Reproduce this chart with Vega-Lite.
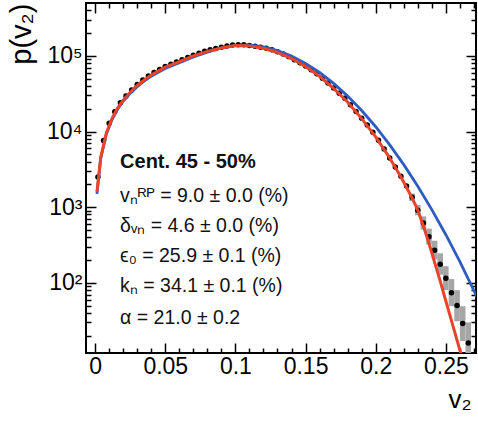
{
  "$schema": "https://vega.github.io/schema/vega-lite/v6.json",
  "width": 390,
  "height": 350,
  "autosize": {"type": "none"},
  "padding": {"left": 86, "top": 3, "right": 2, "bottom": 71},
  "background": "white",
  "config": {
    "view": {"stroke": "black", "strokeWidth": 2},
    "font": "Liberation Sans",
    "axis": {"domain": false, "grid": false, "tickColor": "black", "tickWidth": 1.5, "labelColor": "black", "titleColor": "black", "labelFont": "Liberation Sans", "titleFont": "Liberation Sans", "titleFontWeight": "normal"}
  },
  "datasets": {
    "dots": [
      {"v2": 0.002, "p": 2510}, {"v2": 0.006, "p": 7590}, {"v2": 0.010, "p": 12880}, {"v2": 0.014, "p": 18200},
      {"v2": 0.018, "p": 23990}, {"v2": 0.022, "p": 29510}, {"v2": 0.026, "p": 35480}, {"v2": 0.030, "p": 41690},
      {"v2": 0.034, "p": 47860}, {"v2": 0.038, "p": 54330}, {"v2": 0.042, "p": 60260}, {"v2": 0.046, "p": 66070},
      {"v2": 0.050, "p": 72440}, {"v2": 0.054, "p": 77620}, {"v2": 0.058, "p": 83180}, {"v2": 0.062, "p": 89130},
      {"v2": 0.066, "p": 95500}, {"v2": 0.070, "p": 102300}, {"v2": 0.074, "p": 108400}, {"v2": 0.078, "p": 114800},
      {"v2": 0.082, "p": 120200}, {"v2": 0.086, "p": 125000}, {"v2": 0.090, "p": 130300}, {"v2": 0.094, "p": 134900},
      {"v2": 0.098, "p": 139000}, {"v2": 0.102, "p": 140600}, {"v2": 0.106, "p": 140000}, {"v2": 0.110, "p": 137400},
      {"v2": 0.114, "p": 134300}, {"v2": 0.118, "p": 130300}, {"v2": 0.122, "p": 125900}, {"v2": 0.126, "p": 120200},
      {"v2": 0.130, "p": 113500}, {"v2": 0.134, "p": 105900}, {"v2": 0.138, "p": 97720}, {"v2": 0.142, "p": 89130},
      {"v2": 0.146, "p": 81280}, {"v2": 0.150, "p": 73280}, {"v2": 0.154, "p": 65310}, {"v2": 0.158, "p": 58210},
      {"v2": 0.162, "p": 50700}, {"v2": 0.166, "p": 43650}, {"v2": 0.170, "p": 37580}, {"v2": 0.174, "p": 31990},
      {"v2": 0.178, "p": 27540}, {"v2": 0.182, "p": 22650}, {"v2": 0.186, "p": 18410}, {"v2": 0.190, "p": 14960},
      {"v2": 0.194, "p": 12160}, {"v2": 0.198, "p": 9770}, {"v2": 0.202, "p": 7670}, {"v2": 0.206, "p": 5890},
      {"v2": 0.210, "p": 4470}, {"v2": 0.214, "p": 3390}, {"v2": 0.218, "p": 2570}, {"v2": 0.222, "p": 1905},
      {"v2": 0.226, "p": 1349}, {"v2": 0.230, "p": 912}, {"v2": 0.234, "p": 617}, {"v2": 0.238, "p": 407},
      {"v2": 0.242, "p": 269}, {"v2": 0.246, "p": 176}, {"v2": 0.250, "p": 115}, {"v2": 0.254, "p": 74},
      {"v2": 0.258, "p": 50}, {"v2": 0.262, "p": 29}, {"v2": 0.266, "p": 16}
    ],
    "err": [
      {"v2": 0.226, "lo": 1200, "hi": 1510}, {"v2": 0.230, "lo": 780, "hi": 1070}, {"v2": 0.234, "lo": 505, "hi": 755},
      {"v2": 0.238, "lo": 320, "hi": 520}, {"v2": 0.242, "lo": 203, "hi": 360}, {"v2": 0.246, "lo": 128, "hi": 245},
      {"v2": 0.250, "lo": 80, "hi": 166}, {"v2": 0.254, "lo": 49, "hi": 112}, {"v2": 0.258, "lo": 31, "hi": 80},
      {"v2": 0.262, "lo": 17, "hi": 49}, {"v2": 0.266, "lo": 8.5, "hi": 30}
    ],
    "red": [
      {"v2": 0.0013, "p": 1585}, {"v2": 0.004, "p": 4570}, {"v2": 0.008, "p": 9550}, {"v2": 0.012, "p": 14790},
      {"v2": 0.016, "p": 20420}, {"v2": 0.020, "p": 26000}, {"v2": 0.025, "p": 33100}, {"v2": 0.030, "p": 40600},
      {"v2": 0.035, "p": 48200}, {"v2": 0.040, "p": 55900}, {"v2": 0.045, "p": 63000}, {"v2": 0.050, "p": 70800},
      {"v2": 0.060, "p": 84200}, {"v2": 0.070, "p": 99900}, {"v2": 0.080, "p": 114800}, {"v2": 0.090, "p": 127300},
      {"v2": 0.100, "p": 137000}, {"v2": 0.110, "p": 135500}, {"v2": 0.120, "p": 125900}, {"v2": 0.130, "p": 110900},
      {"v2": 0.140, "p": 92260}, {"v2": 0.150, "p": 72440}, {"v2": 0.160, "p": 53700}, {"v2": 0.170, "p": 37150},
      {"v2": 0.180, "p": 24550}, {"v2": 0.190, "p": 14790}, {"v2": 0.200, "p": 8510}, {"v2": 0.210, "p": 4470},
      {"v2": 0.218, "p": 2500}, {"v2": 0.222, "p": 1820}, {"v2": 0.226, "p": 1318}, {"v2": 0.230, "p": 912},
      {"v2": 0.234, "p": 562}, {"v2": 0.238, "p": 331}, {"v2": 0.242, "p": 186}, {"v2": 0.246, "p": 105},
      {"v2": 0.250, "p": 57.5}, {"v2": 0.254, "p": 31.6}, {"v2": 0.258, "p": 17.4}, {"v2": 0.262, "p": 9.5}
    ],
    "blue": [
      {"v2": 0.0013, "p": 1500}, {"v2": 0.004, "p": 4400}, {"v2": 0.008, "p": 9200}, {"v2": 0.012, "p": 14300},
      {"v2": 0.016, "p": 19700}, {"v2": 0.020, "p": 25100}, {"v2": 0.025, "p": 31900}, {"v2": 0.030, "p": 39200},
      {"v2": 0.035, "p": 46500}, {"v2": 0.040, "p": 53900}, {"v2": 0.045, "p": 60800}, {"v2": 0.050, "p": 68300},
      {"v2": 0.060, "p": 81500}, {"v2": 0.070, "p": 96800}, {"v2": 0.080, "p": 112200}, {"v2": 0.090, "p": 127400},
      {"v2": 0.100, "p": 138000}, {"v2": 0.110, "p": 139600}, {"v2": 0.120, "p": 131800}, {"v2": 0.130, "p": 117500},
      {"v2": 0.140, "p": 99310}, {"v2": 0.150, "p": 79430}, {"v2": 0.160, "p": 60260}, {"v2": 0.170, "p": 43250},
      {"v2": 0.180, "p": 29380}, {"v2": 0.190, "p": 18920}, {"v2": 0.200, "p": 11560}, {"v2": 0.210, "p": 6670},
      {"v2": 0.220, "p": 3650}, {"v2": 0.230, "p": 1890}, {"v2": 0.240, "p": 927}, {"v2": 0.250, "p": 432},
      {"v2": 0.260, "p": 190}, {"v2": 0.270, "p": 79}, {"v2": 0.278, "p": 38}
    ],
    "notes": [
      {"v2": 0.0178, "p": 1175, "label": "vₙᴿᴾ = 9.0 ± 0.0 (%)"},
      {"v2": 0.0178, "p": 471, "label": "δᵥₙ = 4.6 ± 0.0 (%)"},
      {"v2": 0.0178, "p": 189, "label": "ϵ₀ = 25.9 ± 0.1 (%)"},
      {"v2": 0.0178, "p": 75.5, "label": "kₙ = 34.1 ± 0.1 (%)"},
      {"v2": 0.0178, "p": 28.8, "label": "α = 21.0 ± 0.2"}
    ],
    "head": [
      {"v2": 0.0178, "p": 3260, "label": "Cent. 45 - 50%"}
    ]
  },
  "resolve": {"scale": {"x": "independent", "y": "independent"}, "axis": {"x": "independent", "y": "independent"}},
  "layer": [
    {
      "data": {"name": "err"},
      "mark": {"type": "rule", "color": "#a6a6a6", "strokeWidth": 5.6, "strokeCap": "butt", "clip": true},
      "encoding": {
        "x": {"field": "v2", "type": "quantitative", "scale": {"domain": [-0.0065, 0.2715], "nice": false, "zero": false},
              "axis": {"orient": "top", "values": [0.01,0.02,0.03,0.04,0.06,0.07,0.08,0.09,0.11,0.12,0.13,0.14,0.16,0.17,0.18,0.19,0.21,0.22,0.23,0.24,0.26,0.27], "tickSize": -5, "labels": false, "title": null}},
        "y": {"field": "lo", "type": "quantitative", "scale": {"type": "log", "domain": [11.8, 500000], "nice": false},
              "axis": {"orient": "right", "values": [20,30,40,50,60,70,80,90,200,300,400,500,600,700,800,900,2000,3000,4000,5000,6000,7000,8000,9000,20000,30000,40000,50000,60000,70000,80000,90000,200000,300000,400000], "tickSize": -5, "labels": false, "title": null}},
        "y2": {"field": "hi"}
      }
    },
    {
      "data": {"name": "dots"},
      "mark": {"type": "point", "filled": true, "color": "black", "size": 30, "opacity": 1, "clip": true},
      "encoding": {
        "x": {"field": "v2", "type": "quantitative", "scale": {"domain": [-0.0065, 0.2715], "nice": false, "zero": false},
              "axis": {"orient": "bottom", "values": [0, 0.05, 0.1, 0.15, 0.2, 0.25], "format": "~g", "tickSize": -10, "labelFontSize": 23, "labelPadding": 12, "title": "v₂", "titleFontSize": 26, "titleAnchor": "end", "titleAlign": "left", "titlePadding": 8, "titleX": 362}},
        "y": {"field": "p", "type": "quantitative", "scale": {"type": "log", "domain": [11.8, 500000], "nice": false},
              "axis": {"orient": "left", "values": [100, 1000, 10000, 100000], "tickSize": -10, "labelFontSize": 23, "labelPadding": 14, "labelExpr": "'10' + (datum.value >= 100000 ? '⁵' : datum.value >= 10000 ? '⁴' : datum.value >= 1000 ? '³' : '²')", "title": "p(v₂)", "titleFontSize": 29, "titleAnchor": "end", "titlePadding": 10}}
      }
    },
    {
      "data": {"name": "blue"},
      "mark": {"type": "line", "color": "#2f5cc0", "strokeWidth": 2.8, "clip": true},
      "encoding": {
        "x": {"field": "v2", "type": "quantitative", "scale": {"domain": [-0.0065, 0.2715], "nice": false, "zero": false},
              "axis": {"orient": "top", "values": [0, 0.05, 0.1, 0.15, 0.2, 0.25], "tickSize": -10, "labels": false, "title": null}},
        "y": {"field": "p", "type": "quantitative", "scale": {"type": "log", "domain": [11.8, 500000], "nice": false},
              "axis": {"orient": "right", "values": [100, 1000, 10000, 100000], "tickSize": -10, "labels": false, "title": null}}
      }
    },
    {
      "data": {"name": "red"},
      "mark": {"type": "line", "color": "#e8432b", "strokeWidth": 3, "clip": true},
      "encoding": {
        "x": {"field": "v2", "type": "quantitative", "scale": {"domain": [-0.0065, 0.2715], "nice": false, "zero": false},
              "axis": {"orient": "bottom", "values": [0.01,0.02,0.03,0.04,0.06,0.07,0.08,0.09,0.11,0.12,0.13,0.14,0.16,0.17,0.18,0.19,0.21,0.22,0.23,0.24,0.26,0.27], "tickSize": -5, "labels": false, "title": null}},
        "y": {"field": "p", "type": "quantitative", "scale": {"type": "log", "domain": [11.8, 500000], "nice": false},
              "axis": {"orient": "left", "values": [20,30,40,50,60,70,80,90,200,300,400,500,600,700,800,900,2000,3000,4000,5000,6000,7000,8000,9000,20000,30000,40000,50000,60000,70000,80000,90000,200000,300000,400000], "tickSize": -5, "labels": false, "title": null}}
      }
    },
    {
      "data": {"name": "notes"},
      "mark": {"type": "text", "align": "left", "baseline": "alphabetic", "fontSize": 19.5, "color": "#111"},
      "encoding": {
        "x": {"field": "v2", "type": "quantitative", "scale": {"domain": [-0.0065, 0.2715], "nice": false, "zero": false}, "axis": null},
        "y": {"field": "p", "type": "quantitative", "scale": {"type": "log", "domain": [11.8, 500000], "nice": false}, "axis": null},
        "text": {"field": "label"}
      }
    },
    {
      "data": {"name": "head"},
      "mark": {"type": "text", "align": "left", "baseline": "alphabetic", "fontSize": 20, "fontWeight": "bold", "color": "#111"},
      "encoding": {
        "x": {"field": "v2", "type": "quantitative", "scale": {"domain": [-0.0065, 0.2715], "nice": false, "zero": false}, "axis": null},
        "y": {"field": "p", "type": "quantitative", "scale": {"type": "log", "domain": [11.8, 500000], "nice": false}, "axis": null},
        "text": {"field": "label"}
      }
    }
  ]
}
